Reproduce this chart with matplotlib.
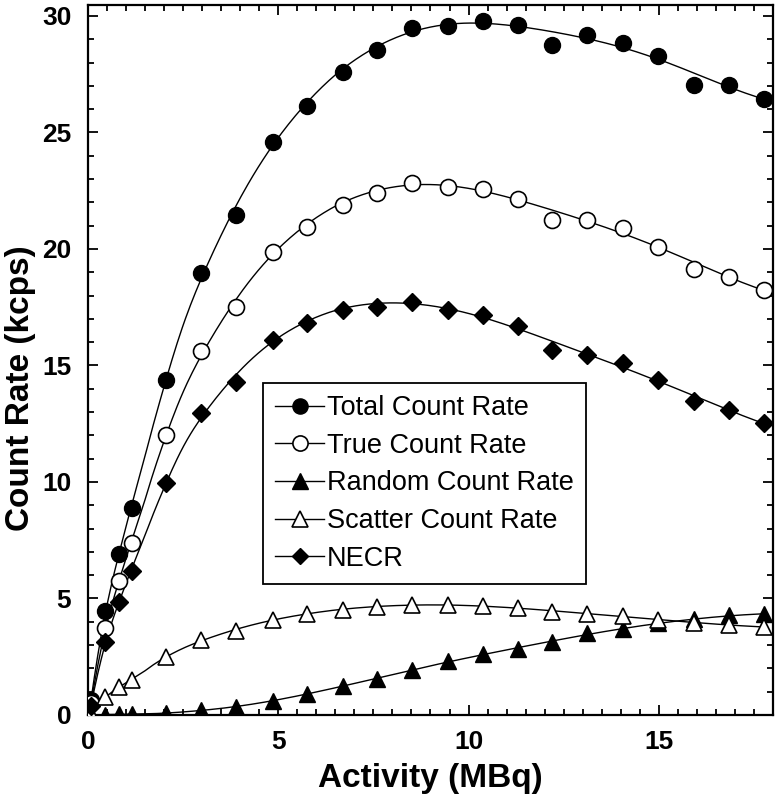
import matplotlib
matplotlib.use("Agg")
import matplotlib.pyplot as plt
import numpy as np
from matplotlib.ticker import MultipleLocator
from matplotlib.lines import Line2D

plt.rcParams['font.family'] = ['Liberation Sans', 'DejaVu Sans']

activity = [0.08, 0.45, 0.81, 1.15, 2.05, 2.98, 3.88, 4.85, 5.76, 6.69, 7.59, 8.52,
            9.45, 10.37, 11.29, 12.2, 13.12, 14.07, 14.99, 15.92, 16.85, 17.77]
total = [0.64, 4.46, 6.9, 8.9, 14.38, 18.96, 21.46, 24.6, 26.14, 27.6, 28.54, 29.47,
         29.57, 29.8, 29.6, 28.75, 29.18, 28.86, 28.28, 27.04, 27.04, 26.44]
true = [0.5, 3.73, 5.75, 7.38, 12.0, 15.6, 17.5, 19.88, 20.96, 21.89, 22.39, 22.85,
        22.67, 22.56, 22.15, 21.24, 21.24, 20.89, 20.1, 19.13, 18.81, 18.24]
random_ = [0.0, 0.02, 0.03, 0.04, 0.08, 0.2, 0.36, 0.6, 0.9, 1.26, 1.56, 1.95,
           2.33, 2.6, 2.82, 3.15, 3.53, 3.68, 3.96, 4.1, 4.29, 4.33]
scatter = [0.05, 0.77, 1.2, 1.5, 2.5, 3.2, 3.62, 4.08, 4.33, 4.5, 4.63, 4.74,
           4.72, 4.68, 4.6, 4.43, 4.33, 4.25, 4.08, 3.94, 3.86, 3.78]
necr = [0.4, 3.13, 4.85, 6.18, 9.94, 12.95, 14.3, 16.1, 16.82, 17.38, 17.52, 17.71,
        17.38, 17.15, 16.68, 15.67, 15.45, 15.09, 14.38, 13.49, 13.09, 12.52]

labels = ["Total Count Rate", "True Count Rate", "Random Count Rate",
          "Scatter Count Rate", "NECR"]


def smooth_curve(x, y, n=400):
    """Local quadratic (Gaussian-weighted) regression of the data points."""
    x = np.asarray(x, float)
    y = np.asarray(y, float)
    gx = np.linspace(x.min(), x.max(), n)
    gy = np.empty_like(gx)
    for i, x0 in enumerate(gx):
        hh = 0.45 + 1.6 * np.clip((x0 - 1.5) / 5.0, 0, 1)
        w = np.exp(-0.5 * ((x - x0) / hh) ** 2)
        A = np.vstack([np.ones_like(x), x - x0, (x - x0) ** 2]).T
        W = np.sqrt(w)
        coef, *_ = np.linalg.lstsq(A * W[:, None], y * W, rcond=None)
        gy[i] = coef[0]
    return gx, gy


fig = plt.figure(figsize=(7.76, 7.99), dpi=100)
ax = fig.add_axes([88/776, 84/799, 685/776, 710/799])

series = [
    (total, dict(marker='o', ms=11.5, mfc='black', mec='black')),
    (true, dict(marker='o', ms=11.5, mfc='white', mec='black', mew=1.2)),
    (random_, dict(marker='^', ms=11.5, mfc='black', mec='black')),
    (scatter, dict(marker='^', ms=11.5, mfc='white', mec='black', mew=1.2)),
    (necr, dict(marker='D', ms=9, mfc='black', mec='black')),
]

handles = []
for (ys, mk), lab in zip(series, labels):
    gx, gy = smooth_curve(activity, ys)
    ax.plot(gx, gy, '-', color='black', lw=1.0, zorder=2)
    ax.plot(activity, ys, ls='none', zorder=3, **mk)
    handles.append(Line2D([0], [0], color='black', lw=1.0, **mk))

ax.set_xlim(0, 18)
ax.set_ylim(0, 30.47)
ax.xaxis.set_major_locator(MultipleLocator(5))
ax.xaxis.set_minor_locator(MultipleLocator(0.5))
ax.yaxis.set_major_locator(MultipleLocator(5))
ax.yaxis.set_minor_locator(MultipleLocator(1))
ax.tick_params(which='both', direction='in', top=True, right=True, width=1.3)
ax.tick_params(which='major', length=7, labelsize=19)
ax.tick_params(axis='x', which='major', pad=11)
ax.tick_params(axis='y', which='major', pad=12)
ax.tick_params(which='minor', length=4)
for lab in ax.get_xticklabels() + ax.get_yticklabels():
    lab.set_fontweight('bold')
for s in ax.spines.values():
    s.set_linewidth(1.6)

ax.set_xlabel("Activity (MBq)", fontsize=24, fontweight='bold', labelpad=6)
ax.set_ylabel("Count Rate (kcps)", fontsize=24, fontweight='bold')
ax.yaxis.set_label_coords(-0.076, 0.46)

leg = ax.legend(handles, labels, loc='upper left', bbox_to_anchor=(0.2555, 0.4676),
                borderaxespad=0, fontsize=19.5, frameon=True, fancybox=False,
                edgecolor='black', handlelength=1.8, handletextpad=0.12,
                labelspacing=0.43, borderpad=0.45, markerscale=0.95)
leg.get_frame().set_linewidth(1.3)
leg.get_frame().set_alpha(1)

fig.savefig("out.png", dpi=100)
